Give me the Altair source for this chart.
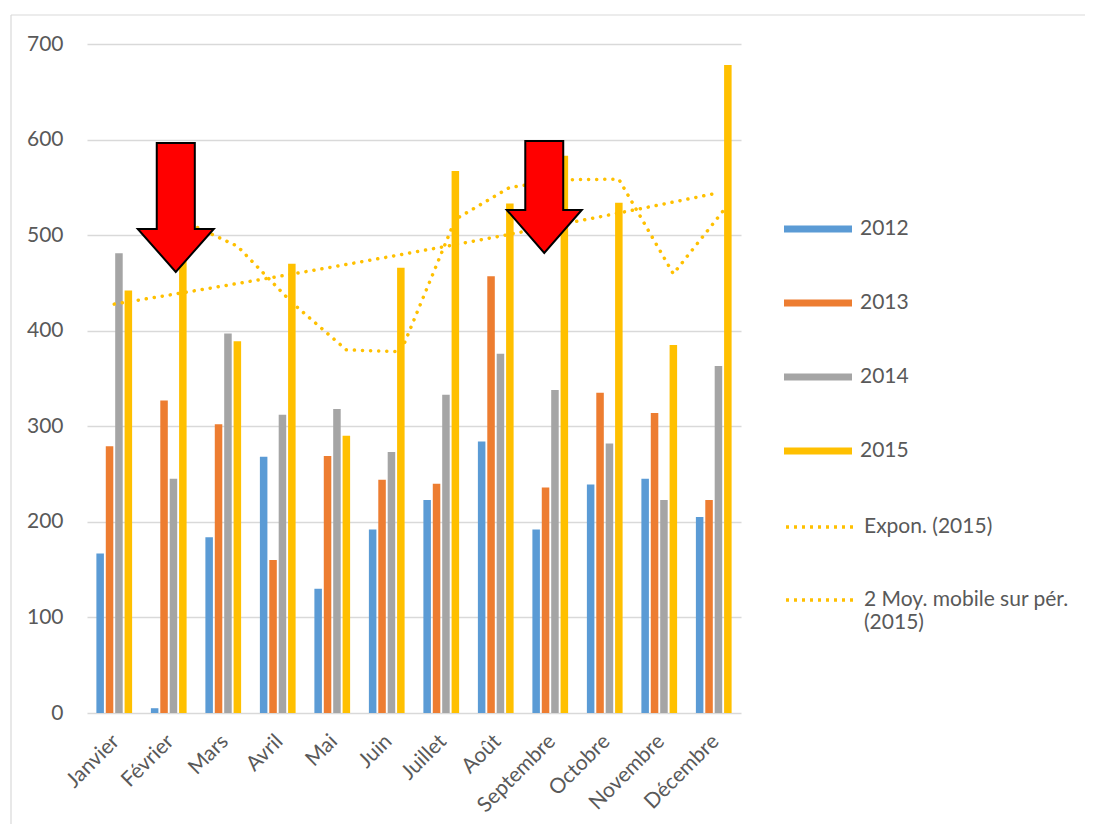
import altair as alt
import pandas as pd
import numpy as np

months = ["Janvier", "Février", "Mars", "Avril", "Mai", "Juin", "Juillet",
          "Août", "Septembre", "Octobre", "Novembre", "Décembre"]
years = ["2012", "2013", "2014", "2015"]
v2012 = [167, 5, 184, 268, 130, 192, 223, 284, 192, 239, 245, 205]
v2013 = [279, 327, 302, 160, 269, 244, 240, 457, 236, 335, 314, 223]
v2014 = [481, 245, 397, 312, 318, 273, 333, 376, 338, 282, 223, 363]
v2015 = [442, 588, 389, 470, 290, 466, 567, 533, 583, 534, 385, 678]
colors = ["#5B9BD5", "#ED7D31", "#A5A5A5", "#FFC000"]
trend_names = ["Expon. (2015)", "2 Moy. mobile sur pér. (2015)"]
arrow_months = ["Février", "Septembre"]
arrow_levels = [529, 540]

FONT = "Lato"
TXT = "#595959"
GOLD = "#FFC000"

rows = []
for yr, vals in zip(years, [v2012, v2013, v2014, v2015]):
    for m, v in zip(months, vals):
        rows.append({"month": m, "year": yr, "value": v})
bars_df = pd.DataFrame(rows)

idx = np.arange(1, 13)
slope, icpt = np.polyfit(idx, np.log(np.array(v2015, dtype=float)), 1)
exp_df = pd.DataFrame({"month": months, "value": np.exp(icpt + slope * idx),
                       "series": trend_names[0]})
ma_df = pd.DataFrame({"month": months, "idx": idx, "value": v2015,
                      "year": "2015", "series": trend_names[1]})

X = alt.X("month:N", sort=months, title=None,
          scale=alt.Scale(paddingInner=0.31, paddingOuter=0.155),
          axis=alt.Axis(labelAngle=-45, labelAlign="right", labelBaseline="middle",
                        labelPadding=25, labelOffset=2, grid=False))
Y = alt.Y("value:Q", title=None,
          scale=alt.Scale(domain=[0, 700], nice=False),
          axis=alt.Axis(values=list(range(0, 800, 100)), labelPadding=24, grid=True,
                        gridColor="#D9D9D9", gridWidth=1.5))

stroke_enc = alt.Stroke("series:N",
                        scale=alt.Scale(domain=trend_names, range=[GOLD, GOLD]),
                        legend=alt.Legend(title=None, orient="none", legendX=697, legendY=447,
                                          symbolType="stroke", symbolSize=4624,
                                          symbolStrokeWidth=3.5, symbolDash=[3, 5],
                                          rowPadding=27, labelOffset=8, padding=0,
                                          labelLimit=400,
                                          labelExpr="datum.label == '2 Moy. mobile sur pér. (2015)' ? ['2 Moy. mobile sur pér.', '(2015)'] : datum.label"))

bars = alt.Chart(bars_df).mark_bar().encode(
    x=X, y=Y,
    xOffset=alt.XOffset("year:N", scale=alt.Scale(paddingInner=0.2, paddingOuter=0.1)),
    fill=alt.Fill("year:N", scale=alt.Scale(domain=years, range=colors),
                  legend=alt.Legend(title=None, orient="none", legendX=697, legendY=151,
                                    symbolType="M-1,-0.103L1,-0.103L1,0.103L-1,0.103Z",
                                    symbolSize=4624, symbolStrokeWidth=0,
                                    rowPadding=30, labelOffset=8, padding=0)),
)

expon = alt.Chart(exp_df).mark_line(strokeDash=[0.1, 8], strokeCap="round", strokeWidth=3.5).encode(
    x=X, y=Y, stroke=stroke_enc)

ma = alt.Chart(ma_df).transform_window(
    ma="mean(value)", frame=[-1, 0], sort=[alt.SortField("idx")]
).transform_filter("datum.idx >= 2").mark_line(
    strokeDash=[0.1, 8], strokeCap="round", strokeWidth=3.5).encode(
    x=X, y=alt.Y("ma:Q", title=None), xOffset=alt.XOffset("year:N"), stroke=stroke_enc)

path_feb = "M-0.186,-1L0.404,-1L0.404,0.333L0.698,0.333L0.109,1L-0.480,0.333L-0.186,0.333Z"
path_sep = "M-0.446,-1L0.232,-1L0.232,0.232L0.563,0.232L-0.107,1L-0.777,0.232L-0.446,0.232Z"

arrow1 = alt.Chart(pd.DataFrame({"month": [arrow_months[0]], "value": [arrow_levels[0]]})).mark_point(
    shape=path_feb, size=16641, filled=True, fill="#FF0000", stroke="#000000",
    strokeWidth=2, opacity=1).encode(x=X, y=Y)
arrow2 = alt.Chart(pd.DataFrame({"month": [arrow_months[1]], "value": [arrow_levels[1]]})).mark_point(
    shape=path_sep, size=12544, filled=True, fill="#FF0000", stroke="#000000",
    strokeWidth=2, opacity=1).encode(x=X, y=Y)

frame_df = pd.DataFrame({"k": [0]})
border_top = alt.Chart(frame_df).mark_rule(color="#D9D9D9", strokeWidth=1.2).encode(
    x=alt.value(-76), x2=alt.value(1100), y=alt.value(-29))
border_left = alt.Chart(frame_df).mark_rule(color="#D9D9D9", strokeWidth=1.2).encode(
    x=alt.value(-76), y=alt.value(-29), y2=alt.value(900))

chart = alt.layer(border_top, border_left, bars, expon, ma, arrow1, arrow2).properties(
    width=654, height=669,
    padding={"left": 79, "top": 36, "right": 344, "bottom": 111},
    autosize=alt.AutoSizeParams(type="none"),
    background="white",
).configure_view(stroke=None).configure_axis(
    labelFont=FONT, labelFontSize=21, labelColor=TXT, domain=False, ticks=False
).configure_legend(
    labelFont=FONT, labelFontSize=21, labelColor=TXT
)

chart.save("out.html", embed_options={"renderer": "svg", "actions": False})
